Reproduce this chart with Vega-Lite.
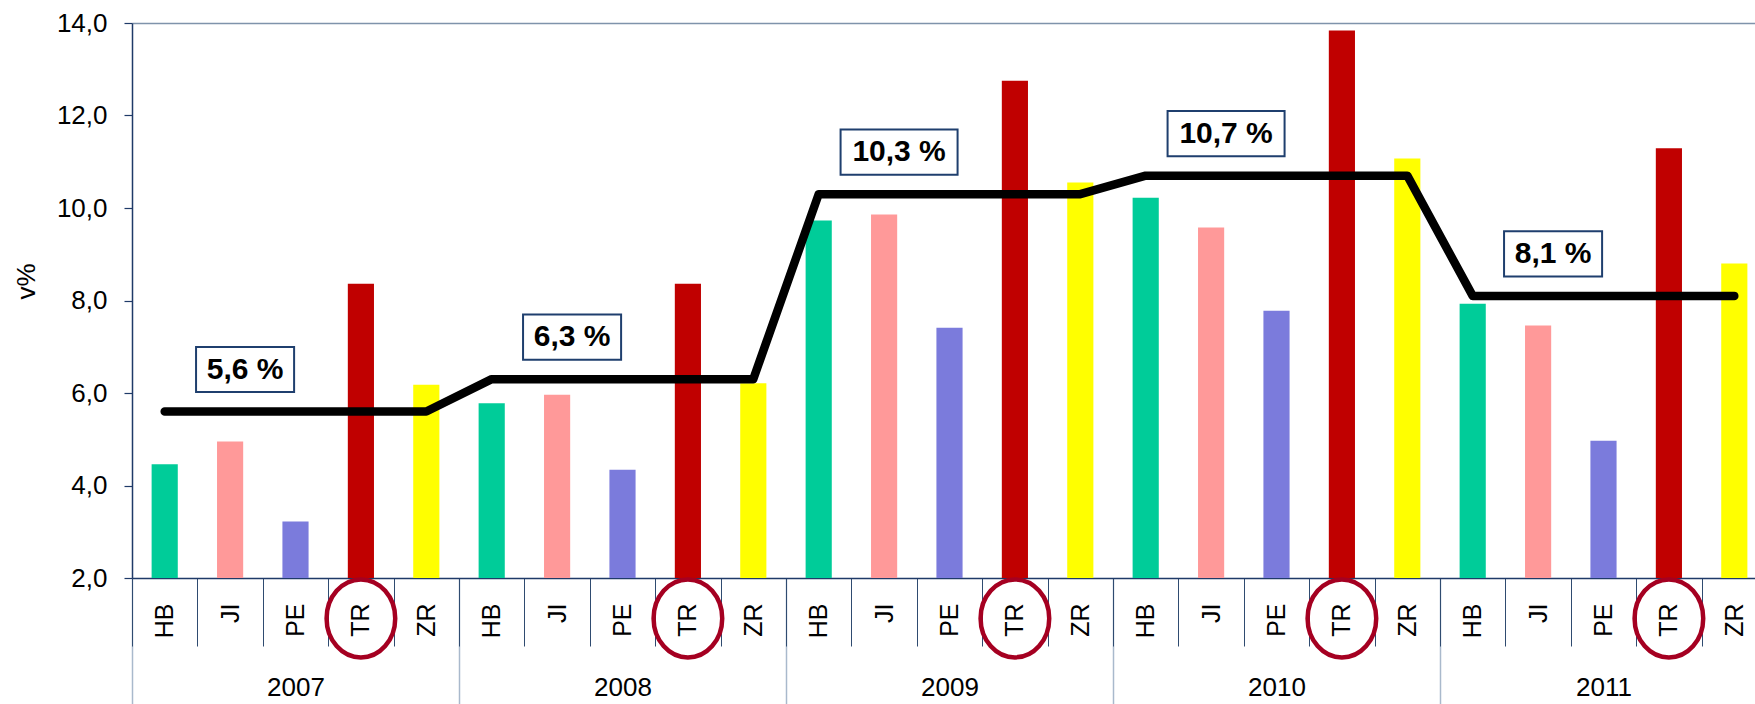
{
  "$schema": "https://vega.github.io/schema/vega-lite/v6.json",
  "width": 1623,
  "height": 555,
  "autosize": {"type": "none"},
  "padding": {"left": 132, "top": 23, "right": 0, "bottom": 126},
  "background": "white",
  "config": {
    "view": {"stroke": null},
    "font": "Liberation Sans",
    "axis": {"labelColor": "#000000", "titleColor": "#000000", "labelFont": "Liberation Sans", "titleFont": "Liberation Sans"}
  },
  "datasets": {
    "bars": [
      {"year": 2007, "reg": "HB", "key": "2007|HB", "v": 4.46, "avg": 5.6},
      {"year": 2007, "reg": "JI", "key": "2007|JI", "v": 4.95, "avg": 5.6},
      {"year": 2007, "reg": "PE", "key": "2007|PE", "v": 3.22, "avg": 5.6},
      {"year": 2007, "reg": "TR", "key": "2007|TR", "v": 8.36, "avg": 5.6},
      {"year": 2007, "reg": "ZR", "key": "2007|ZR", "v": 6.18, "avg": 5.6},
      {"year": 2008, "reg": "HB", "key": "2008|HB", "v": 5.78, "avg": 6.3},
      {"year": 2008, "reg": "JI", "key": "2008|JI", "v": 5.96, "avg": 6.3},
      {"year": 2008, "reg": "PE", "key": "2008|PE", "v": 4.34, "avg": 6.3},
      {"year": 2008, "reg": "TR", "key": "2008|TR", "v": 8.36, "avg": 6.3},
      {"year": 2008, "reg": "ZR", "key": "2008|ZR", "v": 6.21, "avg": 6.3},
      {"year": 2009, "reg": "HB", "key": "2009|HB", "v": 9.73, "avg": 10.3},
      {"year": 2009, "reg": "JI", "key": "2009|JI", "v": 9.86, "avg": 10.3},
      {"year": 2009, "reg": "PE", "key": "2009|PE", "v": 7.41, "avg": 10.3},
      {"year": 2009, "reg": "TR", "key": "2009|TR", "v": 12.75, "avg": 10.3},
      {"year": 2009, "reg": "ZR", "key": "2009|ZR", "v": 10.55, "avg": 10.3},
      {"year": 2010, "reg": "HB", "key": "2010|HB", "v": 10.22, "avg": 10.7},
      {"year": 2010, "reg": "JI", "key": "2010|JI", "v": 9.58, "avg": 10.7},
      {"year": 2010, "reg": "PE", "key": "2010|PE", "v": 7.78, "avg": 10.7},
      {"year": 2010, "reg": "TR", "key": "2010|TR", "v": 13.84, "avg": 10.7},
      {"year": 2010, "reg": "ZR", "key": "2010|ZR", "v": 11.07, "avg": 10.7},
      {"year": 2011, "reg": "HB", "key": "2011|HB", "v": 7.93, "avg": 8.1},
      {"year": 2011, "reg": "JI", "key": "2011|JI", "v": 7.46, "avg": 8.1},
      {"year": 2011, "reg": "PE", "key": "2011|PE", "v": 4.97, "avg": 8.1},
      {"year": 2011, "reg": "TR", "key": "2011|TR", "v": 11.29, "avg": 8.1},
      {"year": 2011, "reg": "ZR", "key": "2011|ZR", "v": 8.80, "avg": 8.1}
    ],
    "labels": [
      {"year": 2007, "at": "2007|JI", "avg": 5.6, "text": "5,6 %"},
      {"year": 2008, "at": "2008|JI", "avg": 6.3, "text": "6,3 %"},
      {"year": 2009, "at": "2009|JI", "avg": 10.3, "text": "10,3 %"},
      {"year": 2010, "at": "2010|JI", "avg": 10.7, "text": "10,7 %"},
      {"year": 2011, "at": "2011|JI", "avg": 8.1, "text": "8,1 %"}
    ]
  },
  "resolve": {"scale": {"x": "independent"}, "axis": {"x": "independent"}},
  "layer": [
    {
      "data": {"name": "bars"},
      "mark": {"type": "text", "opacity": 0},
      "encoding": {
        "x": {
          "field": "year", "type": "ordinal",
          "scale": {"range": [0, 1635], "paddingInner": 0, "paddingOuter": 0},
          "axis": {
            "title": null, "orient": "bottom", "domain": false, "grid": false,
            "tickBand": "extent", "tickSize": 126, "tickColor": "#A9B9CC", "tickWidth": 1.5,
            "labelFontSize": 26, "labelAngle": 0, "labelAlign": "center", "labelBaseline": "middle",
            "labelPadding": -17, "labelOverlap": false
          }
        },
        "text": {"value": ""}
      }
    },
    {
      "layer": [
        {
          "data": {"name": "bars"},
          "mark": {"type": "bar", "width": {"band": 0.4}},
          "encoding": {
            "x": {
              "field": "key", "type": "nominal",
              "scale": {
                "domain": ["2007|HB","2007|JI","2007|PE","2007|TR","2007|ZR","2008|HB","2008|JI","2008|PE","2008|TR","2008|ZR","2009|HB","2009|JI","2009|PE","2009|TR","2009|ZR","2010|HB","2010|JI","2010|PE","2010|TR","2010|ZR","2011|HB","2011|JI","2011|PE","2011|TR","2011|ZR"],
                "range": [0, 1635], "paddingInner": 0, "paddingOuter": 0
              },
              "axis": {
                "title": null, "orient": "bottom", "grid": false,
                "labelExpr": "split(datum.label, '|')[1]",
                "labelAngle": -90, "labelAlign": "right", "labelBaseline": "middle",
                "labelFontSize": 25, "labelPadding": -43, "labelOverlap": false,
                "tickBand": "extent", "tickSize": 68, "tickColor": "#2F4B70", "tickWidth": 1,
                "domainColor": "#1F3A68", "domainWidth": 1.5
              }
            },
            "y": {
              "field": "v", "type": "quantitative",
              "scale": {"domain": [2, 14], "nice": false, "zero": false},
              "axis": {
                "title": "v%", "titleFontSize": 26, "titleFontWeight": "normal",
                "titleX": -106, "titleY": 258, "titleAngle": -90, "titleAlign": "center", "titleBaseline": "middle",
                "values": [2, 4, 6, 8, 10, 12, 14],
                "labelExpr": "replace(format(datum.value, '.1f'), '.', ',')",
                "labelFontSize": 26, "labelPadding": 17,
                "tickSize": 8, "tickColor": "#1F3A68", "tickWidth": 1.2,
                "domainColor": "#1F3A68", "domainWidth": 1.5,
                "grid": true, "gridColor": "#7F93AB", "gridWidth": 1.5,
                "gridOpacity": {"condition": {"test": "datum.value === 14", "value": 1}, "value": 0}
              }
            },
            "y2": {"datum": 2},
            "color": {
              "field": "reg", "type": "nominal",
              "scale": {"domain": ["HB", "JI", "PE", "TR", "ZR"], "range": ["#00CC99", "#FF9999", "#7B7BDC", "#C00000", "#FFFF00"]},
              "legend": null
            }
          }
        },
        {
          "data": {"name": "bars"},
          "mark": {"type": "line", "color": "#000000", "strokeWidth": 8.5, "strokeCap": "round", "strokeJoin": "round"},
          "encoding": {
            "x": {"field": "key", "type": "nominal"},
            "y": {"field": "avg", "type": "quantitative"}
          }
        },
        {
          "data": {"name": "bars"},
          "transform": [{"filter": "datum.reg === 'TR'"}],
          "mark": {"type": "point", "filled": false, "stroke": "#A50021", "strokeWidth": 4.5, "opacity": 1, "size": 6084,
                   "shape": "M-0.88,0A0.88,1 0 1,1 0.88,0A0.88,1 0 1,1 -0.88,0Z"},
          "encoding": {
            "x": {"field": "key", "type": "nominal"},
            "y": {"datum": 1.127}
          }
        },
        {
          "data": {"name": "labels"},
          "mark": {"type": "point", "filled": true, "fill": "#FFFFFF", "stroke": "#1F3F6E", "strokeWidth": 2, "opacity": 1, "strokeOpacity": 1, "size": 13689},
          "encoding": {
            "x": {"field": "at", "type": "nominal"},
            "y": {"field": "avg", "type": "quantitative"},
            "shape": {
              "condition": {"test": "length(datum.text) > 5", "value": "M-0.744,-1.103H1.256V-0.333H-0.744Z"},
              "value": "M-0.582,-1.103H1.094V-0.333H-0.582Z"
            }
          }
        },
        {
          "data": {"name": "labels"},
          "mark": {"type": "text", "fontSize": 30, "fontWeight": "bold", "color": "#000000", "align": "center", "baseline": "middle", "dx": 15, "dy": -42},
          "encoding": {
            "x": {"field": "at", "type": "nominal"},
            "y": {"field": "avg", "type": "quantitative"},
            "text": {"field": "text"}
          }
        }
      ]
    }
  ]
}
